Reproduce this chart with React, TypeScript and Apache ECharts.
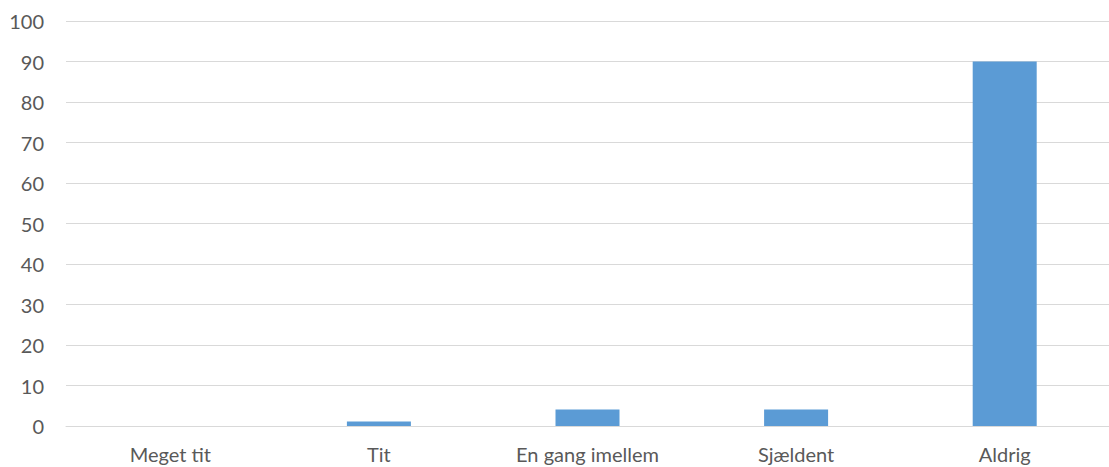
import React, { useEffect, useRef } from "react";
import * as echarts from "echarts";

const categories = ["Meget tit", "Tit", "En gang imellem", "Sjældent", "Aldrig"];
const values = [0, 1.1, 4.1, 4.1, 90];
const yTicks = { min: 0, max: 100, interval: 10 };

export default function App() {
  const ref = useRef<HTMLDivElement>(null);
  useEffect(() => {
    document.body.style.margin = "0";
    document.body.style.overflow = "hidden";
    const chart = echarts.init(ref.current!, null, { renderer: "svg" });
    chart.setOption({
      animation: false,
      backgroundColor: "#ffffff",
      grid: { left: 66, right: -5, top: 21, bottom: 41, containLabel: false },
      xAxis: {
        type: "category",
        data: categories,
        axisLine: { lineStyle: { color: "#D9D9D9", width: 1 } },
        axisTick: { show: false },
        axisLabel: {
          color: "#595959",
          fontFamily: "Lato, Open Sans, sans-serif",
          fontSize: 20,
          margin: 18,
        },
      },
      yAxis: {
        type: "value",
        min: yTicks.min,
        max: yTicks.max,
        interval: yTicks.interval,
        axisLine: { show: false },
        axisTick: { show: false },
        splitLine: { lineStyle: { color: "#D9D9D9", width: 1 } },
        axisLabel: {
          color: "#595959",
          fontFamily: "Lato, Open Sans, sans-serif",
          fontSize: 20,
          margin: 22,
        },
      },
      series: [
        {
          type: "bar",
          data: values,
          barWidth: 64,
          itemStyle: { color: "#5B9BD5" },
        },
      ],
    });
    return () => chart.dispose();
  }, []);
  return (
    <div
      ref={ref}
      style={{ position: "absolute", left: 0, top: 0, width: 1109, height: 467 }}
    />
  );
}
